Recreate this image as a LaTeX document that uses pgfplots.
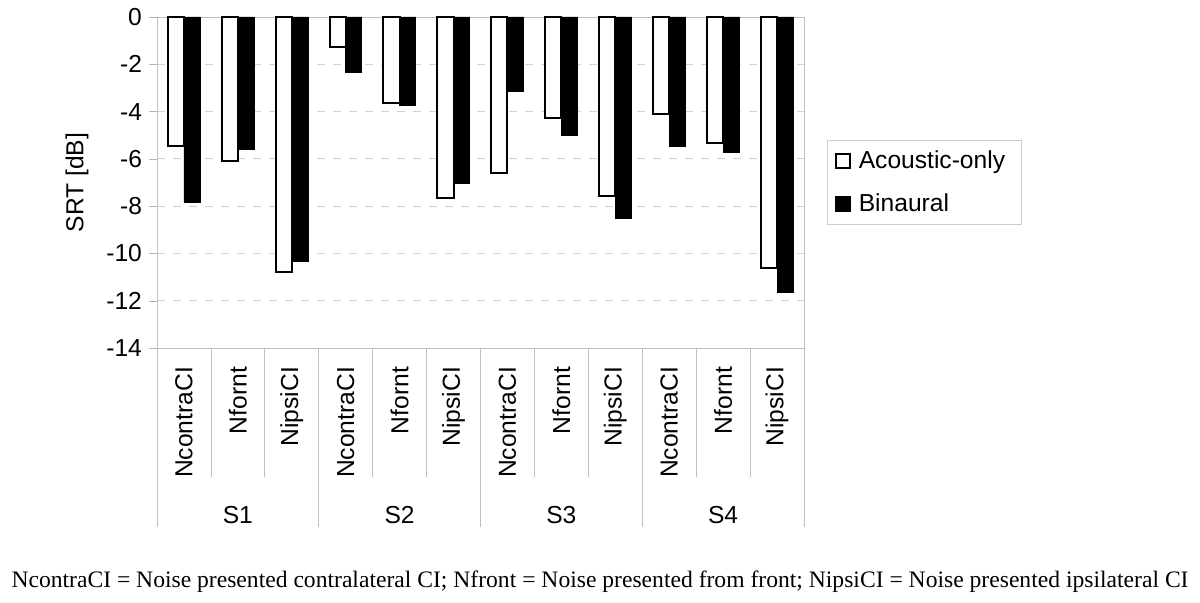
\documentclass[border=0pt]{standalone}
\usepackage{pgfplots}
\pgfplotsset{compat=1.18}
\usepackage{fontspec}
\setmainfont{Liberation Sans}
\newfontfamily\capfont{Liberation Serif}

% SRT per subject and noise condition (x = 0..11)
\pgfplotstableread{
x  acoustic binaural
0  -5.44  -7.84
1  -6.10  -5.62
2  -10.79 -10.32
3  -1.26  -2.33
4  -3.63  -3.74
5  -7.67  -7.02
6  -6.60  -3.15
7  -4.27  -4.99
8  -7.58  -8.50
9  -4.11  -5.47
10 -5.35  -5.72
11 -10.61 -11.64
}\srt

\begin{document}
\begin{tikzpicture}
\path[use as bounding box] (-78.5pt,-127.5pt) rectangle (521.5pt,174pt);
\begin{axis}[
  at={(0pt,0pt)}, anchor=south west,
  scale only axis, width=323.5pt, height=165.5pt,
  font=\fontsize{12.3}{14.8}\selectfont,
  /pgf/number format/assume math mode=true,
  xmin=-0.5, xmax=11.5, ymin=-14, ymax=0,
  ytick distance=2,
  ytick pos=left, tick align=outside,
  major tick length=4pt,
  y tick style={gray!60},
  xtick={0,...,11},
  xticklabels={NcontraCI,Nfornt,NipsiCI,NcontraCI,Nfornt,NipsiCI,
               NcontraCI,Nfornt,NipsiCI,NcontraCI,Nfornt,NipsiCI},
  xticklabel style={rotate=90, anchor=east, font=\fontsize{12.3}{14.8}\selectfont},
  xticklabel shift=2pt,
  yticklabel style={font=\fontsize{12.3}{14.8}\selectfont},
  x tick style={draw=none},
  axis line style={gray!50},
  ymajorgrids,
  major grid style={gray!35, dash pattern=on 4pt off 4pt},
  ybar=0pt, bar width=0.3,
  ylabel={SRT [dB]},
  every axis y label/.style={at={([xshift=-40pt]axis description cs:0,0.5)},
    rotate=90, anchor=center},
  legend style={at={(1,0.5)}, anchor=west, xshift=11.5pt, draw=gray!40,
    font=\fontsize{12.3}{14.8}\selectfont, row sep=7pt,
    inner xsep=4pt, inner ysep=3pt},
  legend cell align=left,
  legend image code/.code={\draw[#1, line width=0.7pt] (0pt,-3.5pt) rectangle (7pt,3.5pt);},
  legend style={nodes={inner xsep=4pt}},
  clip=false,
]
\addplot[fill=white, draw=black, line width=1pt] table[x=x, y=acoustic] {\srt};
\addplot[fill=black, draw=black] table[x=x, y=binaural] {\srt};
\legend{Acoustic-only, Binaural}

\pgfplotsinvokeforeach{0.5,1.5,3.5,4.5,6.5,7.5,9.5,10.5}{
  \draw[gray!50] (axis cs:#1,-14) -- ++(0pt,-64.5pt);}
\pgfplotsinvokeforeach{-0.5,2.5,5.5,8.5,11.5}{
  \draw[gray!50] (axis cs:#1,-14) -- ++(0pt,-89.5pt);}
\node at ([yshift=-83.5pt]axis cs:1,-14) {S1};
\node at ([yshift=-83.5pt]axis cs:4,-14) {S2};
\node at ([yshift=-83.5pt]axis cs:7,-14) {S3};
\node at ([yshift=-83.5pt]axis cs:10,-14) {S4};
\end{axis}
\node[font=\capfont\fontsize{11.8}{14}\selectfont] at (221.5pt,-117pt)
  {NcontraCI = Noise presented contralateral CI; Nfront = Noise presented from front; NipsiCI = Noise presented ipsilateral CI};
\end{tikzpicture}
\end{document}
